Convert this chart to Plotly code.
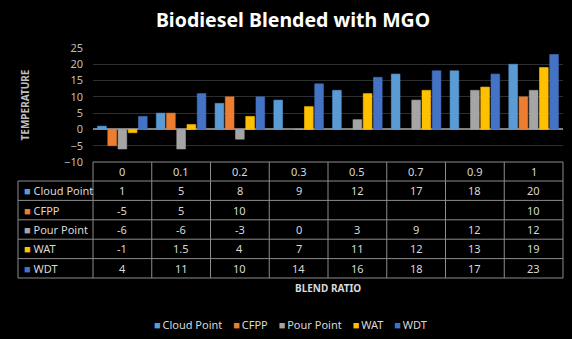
import plotly.graph_objects as go

# ---------------- data ----------------
categories = ["0", "0.1", "0.2", "0.3", "0.5", "0.7", "0.9", "1"]
cloud_point = [1, 5, 8, 9, 12, 17, 18, 20]
cfpp = [-5, 5, 10, None, None, None, None, 10]
pour_point = [-6, -6, -3, 0, 3, 9, 12, 12]
wat = [-1, 1.5, 4, 7, 11, 12, 13, 19]
wdt = [4, 11, 10, 14, 16, 18, 17, 23]
series_names = ["Cloud Point", "CFPP", "Pour Point", "WAT", "WDT"]
y_ticks = [-10, -5, 0, 5, 10, 15, 20, 25]

series_values = [cloud_point, cfpp, pour_point, wat, wdt]
colors = ["#5B9BD5", "#ED7D31", "#A5A5A5", "#FFC000", "#4472C4"]

# ---------------- layout geometry ----------------
W, H = 572, 339
L, R, T, B = 93, 9, 48, 177
PW = W - L - R
PH = H - T - B
FONT = "Noto Sans"


def px(x):
    return (x - L) / PW


def py(y):
    return (T + PH - y) / PH


fig = go.Figure()
for name, vals, col in zip(series_names, series_values, colors):
    fig.add_trace(go.Bar(
        name=name, x=categories, y=vals,
        marker=dict(color=col, line=dict(color=col, width=0.6)),
        showlegend=False,
    ))

shapes = []
annotations = []
line_col = "#8c8c8c"
table_top = T + PH
head_h = 19
row_h = 19.4
rows_top = table_top + head_h
label_left = 18
n = len(categories)

# horizontal lines
for k in range(len(series_names) + 1):
    yy = rows_top + k * row_h
    shapes.append(dict(type="line", xref="paper", yref="paper",
                       x0=px(label_left), x1=1, y0=py(yy), y1=py(yy),
                       line=dict(color=line_col, width=1)))
shapes.append(dict(type="line", xref="paper", yref="paper",
                   x0=0, x1=1, y0=py(table_top), y1=py(table_top),
                   line=dict(color=line_col, width=1)))
table_bottom = rows_top + len(series_names) * row_h
# vertical lines
for i in range(n + 1):
    shapes.append(dict(type="line", xref="paper", yref="paper",
                       x0=i / n, x1=i / n, y0=py(table_top), y1=py(table_bottom),
                       line=dict(color=line_col, width=1)))
shapes.append(dict(type="line", xref="paper", yref="paper",
                   x0=px(label_left), x1=px(label_left), y0=py(rows_top), y1=py(table_bottom),
                   line=dict(color=line_col, width=1)))

txt_col = "#d9d9d9"
# header row (category positions on the category axis are their indices)
for i, c in enumerate(categories):
    annotations.append(dict(x=i, xref="x", y=py(table_top + head_h / 2), yref="paper",
                            text=c, showarrow=False, xanchor="center", yanchor="middle",
                            font=dict(family=FONT, size=11, color=txt_col)))


def fmt(v):
    if v is None:
        return ""
    return str(v)


for r, (name, vals, col) in enumerate(zip(series_names, series_values, colors)):
    yc = py(rows_top + r * row_h + row_h / 2)
    annotations.append(dict(x=px(label_left + 4), xref="paper", y=yc, yref="paper",
                            text=f'<span style="color:{col}">■</span> {name}',
                            showarrow=False, xanchor="left", yanchor="middle",
                            font=dict(family=FONT, size=11, color=txt_col)))
    for i, v in enumerate(vals):
        annotations.append(dict(x=i, xref="x", y=yc, yref="paper", text=fmt(v),
                                showarrow=False, xanchor="center", yanchor="middle",
                                font=dict(family=FONT, size=11, color=txt_col)))

# axis title below table
annotations.append(dict(x=0.5, xref="paper", y=py(288), yref="paper", text="<b>BLEND RATIO</b>",
                        showarrow=False, xanchor="center", yanchor="middle",
                        font=dict(family=FONT, size=10, color=txt_col)))

# bottom legend (one line)
legend_text = "\u2002\u2002".join(
    f'<span style="color:{col}">■</span>\u2009{name}' for name, col in zip(series_names, colors))
annotations.append(dict(x=px(290), xref="paper", y=py(324), yref="paper",
                        text=legend_text, showarrow=False, xanchor="center", yanchor="middle",
                        font=dict(family=FONT, size=11, color=txt_col)))

fig.update_layout(
    width=W, height=H,
    margin=dict(l=L, r=R, t=T, b=B),
    paper_bgcolor="black", plot_bgcolor="black",
    barmode="group", bargap=0.13, bargroupgap=0.15,
    title=dict(text="<b>Biodiesel Blended with MGO</b>", x=293 / W, xanchor="center",
               y=1 - 20 / H, yanchor="middle",
               font=dict(family=FONT, size=19.5, color="white")),
    xaxis=dict(type="category", showticklabels=False, showgrid=False, zeroline=False,
               showline=False, ticks=""),
    yaxis=dict(range=[-10, 25], tickvals=y_ticks, showgrid=True, gridcolor="#2e2e2e",
               gridwidth=1, zeroline=True, zerolinecolor="#808080", zerolinewidth=1.5,
               showline=False, ticks="", ticklabelstandoff=9,
               tickfont=dict(family=FONT, size=11, color="#bfbfbf"),
               title=dict(text="<b>TEMPERATURE</b>", standoff=32,
                          font=dict(family=FONT, size=10, color="#bfbfbf"))),
    shapes=shapes,
    annotations=annotations,
    showlegend=False,
    font=dict(family=FONT),
)

fig.write_html("out.html")
